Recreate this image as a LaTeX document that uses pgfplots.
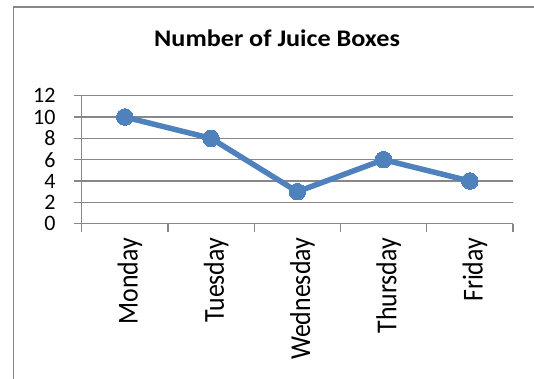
\documentclass[border=0pt]{standalone}
\usepackage{pgfplots}
\pgfplotsset{compat=1.18}
\usepackage{fontspec}
\setmainfont{Carlito}
\newfontfamily\titlefont[FakeStretch=1.1]{Carlito}
\definecolor{juiceblue}{HTML}{4F81BD}
\definecolor{chartgray}{HTML}{878787}
\begin{document}
\begin{tikzpicture}
\begin{axis}[
  scale only axis,
  width=431.3pt, height=128pt,
  at={(0pt,0pt)}, anchor=south west,
  xmin=0.5, xmax=5.5, ymin=0, ymax=12,
  xtick={0.5,1.5,2.5,3.5,4.5,5.5},
  xticklabels={},
  extra x ticks={1,2,3,4,5},
  extra x tick labels={\scalebox{1}[1.12]{Monday},\scalebox{1}[1.12]{Tuesday},\scalebox{1}[1.12]{Wednesday},\scalebox{1}[1.12]{Thursday},\scalebox{1}[1.12]{Friday}},
  extra x tick style={major tick length=0pt},
  ytick={0,2,4,6,8,10,12},
  axis x line*=bottom, axis y line*=left,
  axis line style={-, draw=chartgray, line width=1.2pt},
  tick align=outside,
  major tick length=8pt,
  tick style={draw=chartgray, line width=1.2pt},
  ymajorgrids,
  grid style={draw=chartgray, line width=1.2pt},
  yticklabel style={font=\fontsize{22}{22}\selectfont, text=black, inner sep=0pt, anchor=east, xshift=-18pt},
  xticklabel style={yshift=-14pt, rotate=90, anchor=east, font=\fontsize{25.8}{26}\selectfont, text=black, inner sep=0pt, text depth=0pt, text height=25.7pt},
  /pgf/number format/assume math mode=true,
  title={\titlefont\bfseries\fontsize{23.8}{24}\selectfont Number of Juice Boxes},
  title style={at={(axis description cs:0.453,1.336)}, anchor=base, inner sep=0pt},
  clip=false,
]
\addplot[color=juiceblue, line width=5.5pt, mark=*, mark size=8.3pt,
  mark options={fill=juiceblue, draw=juiceblue, line width=0pt}]
  coordinates {(1,10) (2,8) (3,3) (4,6) (5,4)};
\end{axis}
\draw[chartgray, line width=1.5pt] (-68.2pt,216.7pt) rectangle (490pt,-200pt);
\pgfresetboundingbox
\path[use as bounding box] (-81.7pt,-155.3pt) rectangle (452.3pt,223.7pt);
\end{tikzpicture}
\end{document}
